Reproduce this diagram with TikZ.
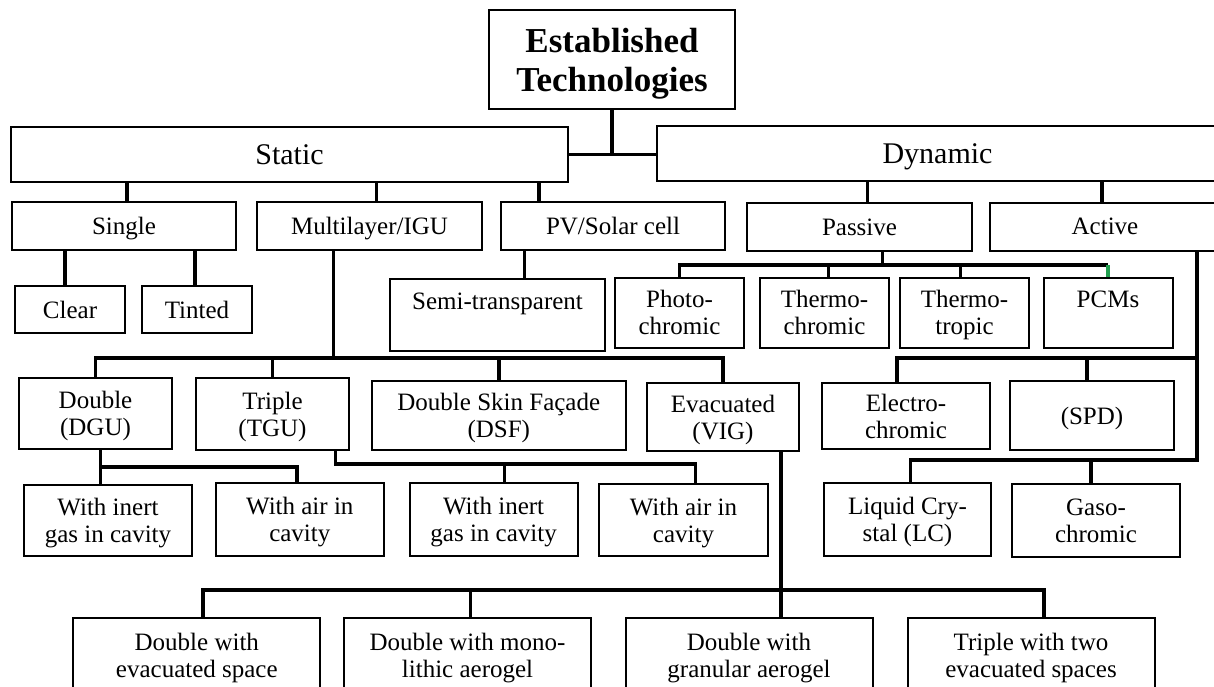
\documentclass[tikz,border=0pt]{standalone}
\usepackage{fontspec}
\setmainfont{Liberation Serif}
\usepackage{tikz}
\usepackage{xcolor}

\begin{document}
\begin{tikzpicture}[x=1pt,y=-1pt,
  techbox/.style 2 args={draw,line width=2pt,inner sep=0pt,align=center,text depth=0pt,
    minimum width=#1pt,minimum height=#2pt,font=\fontsize{25}{27}\selectfont},
  link/.style={line width=3.5pt}]
\definecolor{pcmgreen}{HTML}{22A050}
\useasboundingbox (0,0) rectangle (1214,686);
% top levels
\node[techbox={246}{99},font=\fontsize{35}{39}\selectfont\bfseries] (root) at (612,59.5) {Established\\Technologies};
\node[techbox={557}{55},font=\fontsize{30}{32}\selectfont] (static) at (289.5,154.5) {Static};
\node[techbox={561}{55},font=\fontsize{30}{32}\selectfont] (dynamic) at (937.5,153.5) {Dynamic};
\node[techbox={224}{48}] (single) at (124,226) {Single};
\node[techbox={225}{48}] (multi) at (369.5,226) {Multilayer/IGU};
\node[techbox={224}{48}] (pv) at (613,226) {PV/Solar cell};
\node[techbox={225}{48}] (passive) at (859.5,227) {Passive};
\node[techbox={230}{48}] (active) at (1105,226.5) {Active};
% third row
\node[techbox={110}{47}] (clear) at (70,309.5) {Clear};
\node[techbox={110}{47}] (tinted) at (197,309.5) {Tinted};
\node[techbox={215}{72}] (semi) at (497.5,315) {Semi-transparent\\~};
\foreach \name/\xpos/\txt in {photo/679.5/{Photo-\\chromic},thermoc/824.5/{Thermo-\\chromic},
  thermot/964.5/{Thermo-\\tropic},pcms/1108/{PCMs\\~}}
  {\node[techbox={129}{70}] (\name) at (\xpos,312.5) {\txt};}
% glazing types
\node[techbox={153}{71}] (double) at (95.5,413.5) {Double\\(DGU)};
\node[techbox={153}{72}] (triple) at (272.5,414) {Triple\\(TGU)};
\node[techbox={254}{69}] (dsf) at (498.8,415.5) {Double Skin Façade\\(DSF)};
\node[techbox={152}{68}] (evac) at (723,417) {Evacuated\\(VIG)};
\node[techbox={168}{66}] (electro) at (906,416) {Electro-\\chromic};
\node[techbox={164}{69}] (spd) at (1092,415.5) {(SPD)};
\node[techbox={168}{71}] (inert1) at (108,520.5) {With inert\\gas in cavity};
\node[techbox={168}{73}] (air1) at (299.8,519.5) {With air in\\cavity};
\node[techbox={168}{73}] (inert2) at (493.6,519.5) {With inert\\gas in cavity};
\node[techbox={169}{72}] (air2) at (683.5,520) {With air in\\cavity};
\node[techbox={167}{73}] (lc) at (907.5,519.5) {Liquid Cry-\\stal (LC)};
\node[techbox={168}{73}] (gaso) at (1096,520.5) {Gaso-\\chromic};
% evacuated variants
\foreach \name/\xpos/\txt in {dev/196.8/{Double with\\evacuated space},mono/467.5/{Double with mono-\\lithic aerogel},
  gran/749/{Double with\\granular aerogel},trip2/1031/{Triple with two\\evacuated spaces}}
  {\node[techbox={247}{74}] (\name) at (\xpos,655) {\txt};}

\coordinate (pbus) at (0,265);
\coordinate (mbus) at (0,358);
\coordinate (dbus) at (0,467);
\coordinate (tbus) at (0,464);
\coordinate (abus1) at (0,358);
\coordinate (abus2) at (0,460);
\coordinate (ebus) at (0,590);
% connectors
\draw[link] (root.south) -- (root.south |- static.east);
\draw[link] (static.east) -- (static.east -| dynamic.west);
\draw[link] ([xshift=3pt]single.north) -- ([xshift=3pt]single.north |- static.south);
\draw[link] ([xshift=7pt]multi.north) -- ([xshift=7pt]multi.north |- static.south);
\draw[link] ([xshift=-74pt]pv.north) -- ([xshift=-74pt]pv.north |- static.south);
\draw[link] ([xshift=8pt]passive.north) -- ([xshift=8pt]passive.north |- dynamic.south);
\draw[link] ([xshift=-3pt]active.north) -- ([xshift=-3pt]active.north |- dynamic.south);
\draw[link] ([xshift=-5pt]clear.north) -- ([xshift=-5pt]clear.north |- single.south);
\draw[link] ([xshift=-2pt]tinted.north) -- ([xshift=-2pt]tinted.north |- single.south);
\draw[link] ([xshift=27pt]semi.north) -- ([xshift=27pt]semi.north |- pv.south);
% passive
\draw[link] ([xshift=23pt]passive.south) -- ([xshift=23pt]passive.south |- pbus);
\draw[link] (photo.north) |- (pcms.north |- pbus);
\draw[link] ([xshift=4pt]thermoc.north) -- ([xshift=4pt]thermoc.north |- pbus);
\draw[link] ([xshift=-4pt]thermot.north) -- ([xshift=-4pt]thermot.north |- pbus);
\draw[link,pcmgreen] (pcms.north) -- (pcms.north |- pbus);
% multilayer
\draw[link] ([xshift=-36pt]multi.south) -- ([xshift=-36pt]multi.south |- mbus);
\draw[link] (double.north) |- (evac.north |- mbus) -- (evac.north);
\draw[link] (triple.north) -- (triple.north |- mbus);
\draw[link] (dsf.north) -- (dsf.north |- mbus);
\draw[link] ([xshift=5pt]double.south) |- ([xshift=-3pt]air1.north |- dbus) -- ([xshift=-3pt]air1.north);
\draw[link] ([xshift=5pt]double.south) -- ([xshift=5pt]double.south |- inert1.north);
\draw[link] ([xshift=63pt]triple.south) |- ([xshift=12pt]air2.north |- tbus) -- ([xshift=12pt]air2.north);
\draw[link] ([xshift=11pt]inert2.north) -- ([xshift=11pt]inert2.north |- tbus);
% evacuated
\draw[link] ([xshift=58pt]evac.south) -- ([xshift=32pt]gran.north);
\draw[link] ([xshift=6pt]dev.north) |- ([xshift=13pt]trip2.north |- ebus) -- ([xshift=13pt]trip2.north);
\draw[link] ([xshift=3pt]mono.north) -- ([xshift=3pt]mono.north |- ebus);
% active
\draw[link] ([xshift=92pt]active.south) |- ([xshift=3pt]lc.north |- abus2) -- ([xshift=3pt]lc.north);
\draw[link] ([xshift=-9pt]electro.north) |- ([xshift=92pt]active.south |- abus1);
\draw[link] ([xshift=-5pt]spd.north) -- ([xshift=-5pt]spd.north |- abus1);
\draw[link] ([xshift=-5pt]gaso.north) -- ([xshift=-5pt]gaso.north |- abus2);
\end{tikzpicture}
\end{document}
